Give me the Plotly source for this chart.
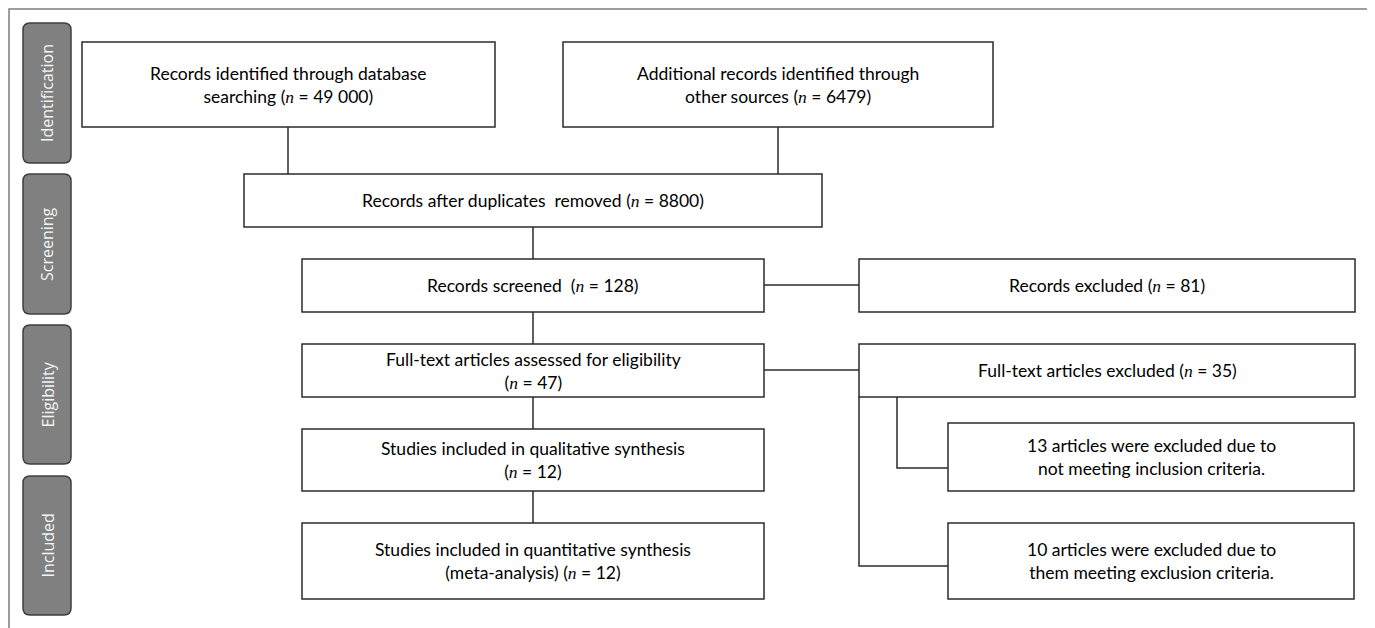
import plotly.graph_objects as go

# ---- data ----
stage_labels = ["Identification", "Screening", "Eligibility", "Included"]

box_names = ["db", "other", "dedup", "screened", "excluded",
             "ft_assessed", "ft_excluded", "qual", "quant", "excl_incl", "excl_excl"]
box_templates = [
    "Records identified through database<br>searching ({n} = {v})",
    "Additional records identified through<br>other sources ({n} = {v})",
    "Records after duplicates\u00a0 removed ({n} = {v})",
    "Records screened\u00a0 ({n} = {v})",
    "Records excluded ({n} = {v})",
    "Full-text articles assessed for eligibility<br>({n} = {v})",
    "Full-text articles excluded ({n} = {v})",
    "Studies included in qualitative synthesis<br>({n} = {v})",
    "Studies included in quantitative synthesis<br>(meta-analysis) ({n} = {v})",
    "{v} articles were excluded due to<br>not meeting inclusion criteria.",
    "{v} articles were excluded due to<br>them meeting exclusion criteria.",
]
box_counts = [49000, 6479, 8800, 128, 81, 47, 35, 12, 12, 13, 10]

# ---- layout geometry (pixels in the 1375x628 window) ----
W, H = 1375, 628
OFF = 8  # page body margin
box_geom = {  # x0, x1, y0, y1
    "db": (82, 495, 42, 127),
    "other": (563, 993, 42, 127),
    "dedup": (244, 822, 174, 227),
    "screened": (302, 764, 259, 312),
    "excluded": (859, 1355, 259, 312),
    "ft_assessed": (302, 764, 344, 397),
    "ft_excluded": (859, 1355, 344, 397),
    "qual": (302, 764, 429, 491),
    "quant": (302, 764, 523, 599),
    "excl_incl": (948, 1354, 423, 491),
    "excl_excl": (948, 1354, 523, 599),
}
stage_geom = [(23, 71, 23, 163), (23, 71, 174, 314), (23, 71, 325, 464), (23, 71, 476, 615)]
connectors = [
    [(288, 127), (288, 174)],
    [(778, 127), (778, 174)],
    [(533, 227), (533, 259)],
    [(764, 285), (859, 285)],
    [(533, 312), (533, 344)],
    [(764, 370), (859, 370)],
    [(533, 397), (533, 429)],
    [(533, 491), (533, 523)],
    [(897, 397), (897, 468), (948, 468)],
    [(859, 397), (859, 566), (948, 566)],
]

LINE = "#2b2b2b"
FONT = "Lato"
N_ITAL = "<i><span style=\"font-family:'Liberation Serif'\">n</span></i>"


def fmt(v):
    return f"{v:,}".replace(",", "\u00a0") if v >= 10000 else str(v)


fig = go.Figure()
shapes = []
annotations = []

# outer frame (open at bottom)
shapes.append(dict(type="path", path=f"M 9 {H + 5} L 9 9 L 1370 9 L 1370 {H + 5}",
                   line=dict(color="#7f7f7f", width=1.5), xref="x", yref="y"))

# connectors
for pts in connectors:
    p = "M " + " L ".join(f"{x} {y}" for x, y in pts)
    shapes.append(dict(type="path", path=p, line=dict(color=LINE, width=1.5),
                       xref="x", yref="y", layer="below"))

# boxes
for name, tpl, v in zip(box_names, box_templates, box_counts):
    x0, x1, y0, y1 = box_geom[name]
    shapes.append(dict(type="rect", x0=x0, x1=x1, y0=y0, y1=y1,
                       line=dict(color=LINE, width=1.5), fillcolor="white",
                       xref="x", yref="y"))
    annotations.append(dict(x=(x0 + x1) / 2, y=(y0 + y1) / 2, xref="x", yref="y",
                            text=tpl.format(n=N_ITAL, v=fmt(v)), showarrow=False,
                            font=dict(family=FONT, size=17.5, color="#000000"),
                            align="center", xanchor="center", yanchor="middle"))

# stage side labels (rounded rectangles)
r = 7
for lab, (x0, x1, y0, y1) in zip(stage_labels, stage_geom):
    p = (f"M {x0 + r} {y0} L {x1 - r} {y0} Q {x1} {y0} {x1} {y0 + r} "
         f"L {x1} {y1 - r} Q {x1} {y1} {x1 - r} {y1} L {x0 + r} {y1} "
         f"Q {x0} {y1} {x0} {y1 - r} L {x0} {y0 + r} Q {x0} {y0} {x0 + r} {y0} Z")
    shapes.append(dict(type="path", path=p, fillcolor="#808080",
                       line=dict(color="#3f3f3f", width=1.5), xref="x", yref="y"))
    annotations.append(dict(x=(x0 + x1) / 2, y=(y0 + y1) / 2, xref="x", yref="y",
                            text=lab, textangle=-90, showarrow=False,
                            font=dict(family="Open Sans", size=16, color="#f4f4f4"),
                            xanchor="center", yanchor="middle"))

fig.update_layout(
    width=W - OFF, height=H - OFF,
    margin=dict(l=0, r=0, t=0, b=0),
    paper_bgcolor="white", plot_bgcolor="white",
    xaxis=dict(range=[OFF, W], visible=False, fixedrange=True),
    yaxis=dict(range=[H, OFF], visible=False, fixedrange=True),
    shapes=shapes, annotations=annotations, showlegend=False,
)

fig.write_html("out.html", config={"displayModeBar": False})
